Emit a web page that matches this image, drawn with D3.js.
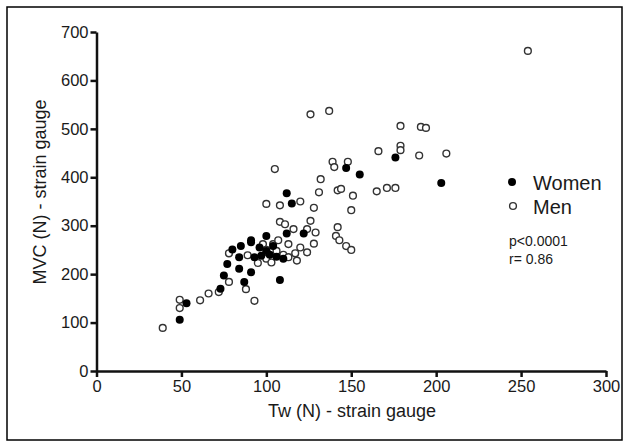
<!DOCTYPE html>
<html>
<head>
<meta charset="utf-8">
<script src="https://cdn.jsdelivr.net/npm/d3@7"></script>
<style>
body{margin:0;background:#fff;}
text{font-family:"Liberation Sans",Arial,sans-serif;fill:#1a1a1a;}
</style>
</head>
<body>
<svg id="graph" width="629" height="447"></svg>
<script>
'use strict'

// Tw (N), MVC (N) pairs
var womenTw = [176,203,147,155,112,115,100,112,122,91,80,85,91,84,93,77,84,91,75,87,73,53,49,100,102,106,110,97,108,104,96];
var womenMvc = [441,388,419,406,367,346,279,284,284,270,251,258,266,235,235,221,211,204,197,184,170,140,106,248,240,236,232,238,188,258,255];

var menTw = [254,179,191,194,166,179,179,190,206,165,171,176,126,137,105,139,140,148,132,131,142,144,151,150,120,100,108,128,108,111,116,126,124,129,142,141,78,89,78,72,88,93,66,61,49,49,39,
	147,150,143,98,100,104,106,110,113,117,120,118,124,128,100,95,103,107,113];
var menMvc = [661,506,504,502,454,465,456,445,449,371,378,378,530,537,417,432,421,432,396,369,373,376,362,332,350,345,342,337,308,303,293,310,293,286,297,279,243,239,184,163,169,145,160,146,147,130,89,
	258,250,270,262,250,262,248,240,235,243,255,228,245,263,232,223,224,270,262];

var xTicks = [0,50,100,150,200,250,300];
var yTicks = [0,100,200,300,400,500,600,700];

var svg = d3.select('#graph');

// frame
svg.append('rect')
	.attr('x',7).attr('y',7).attr('width',615).attr('height',433)
	.attr('fill','none').attr('stroke','#000').attr('stroke-width',1.5);

var x = d3.scaleLinear().domain([0,300]).range([96.5,606]);
var y = d3.scaleLinear().domain([0,700]).range([371,32]);

var xAxis = svg.append('g').attr('transform','translate(0,371)')
	.call(d3.axisBottom(x).tickValues(xTicks).tickSize(6).tickPadding(3).tickSizeOuter(0));
var yAxis = svg.append('g').attr('transform','translate(96.5,0)')
	.call(d3.axisLeft(y).tickValues(yTicks).tickSize(6).tickPadding(2).tickSizeOuter(0));

[xAxis,yAxis].forEach(function(a){
	a.select('.domain').attr('stroke','#111').attr('stroke-width',2.5);
	a.selectAll('.tick line').attr('stroke','#111').attr('stroke-width',2.5);
	a.selectAll('.tick text').style('font-size','16.5px').attr('fill','#1a1a1a');
});

// axis titles
svg.append('text')
	.attr('x',352).attr('y',417)
	.attr('text-anchor','middle')
	.style('font-size','18px')
	.text('Tw (N) - strain gauge');
svg.append('text')
	.attr('transform','translate(46,192) rotate(-90)')
	.attr('text-anchor','middle')
	.style('font-size','18px')
	.text('MVC (N) - strain gauge');

// points
var men = menTw.map(function(v,i){ return [v,menMvc[i]]; });
var women = womenTw.map(function(v,i){ return [v,womenMvc[i]]; });

svg.append('g').selectAll('circle').data(men).enter().append('circle')
	.attr('cx',function(d){ return x(d[0]); })
	.attr('cy',function(d){ return y(d[1]); })
	.attr('r',3.4)
	.attr('fill','#fff')
	.attr('stroke','#333')
	.attr('stroke-width',1.4);

svg.append('g').selectAll('circle').data(women).enter().append('circle')
	.attr('cx',function(d){ return x(d[0]); })
	.attr('cy',function(d){ return y(d[1]); })
	.attr('r',4)
	.attr('fill','#000');

// legend
svg.append('circle').attr('cx',512).attr('cy',182).attr('r',4).attr('fill','#000');
svg.append('text').attr('x',533).attr('y',190).style('font-size','20px').text('Women');
svg.append('circle').attr('cx',513).attr('cy',206).attr('r',3.4)
	.attr('fill','#fff').attr('stroke','#333').attr('stroke-width',1.4);
svg.append('text').attr('x',533).attr('y',214).style('font-size','20px').text('Men');

svg.append('text').attr('x',509).attr('y',246).style('font-size','14px').text('p<0.0001');
svg.append('text').attr('x',509).attr('y',264).style('font-size','14px').text('r= 0.86');
</script>
</body>
</html>
